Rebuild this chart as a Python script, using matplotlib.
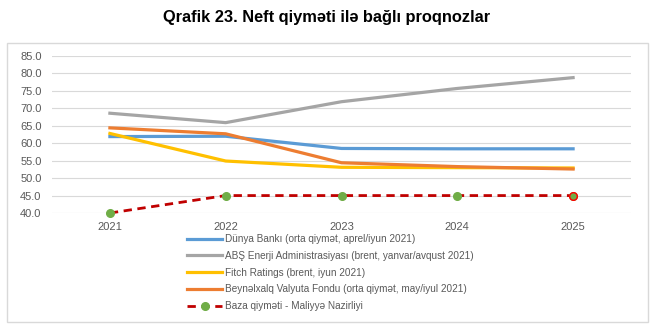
import matplotlib.pyplot as plt
from matplotlib.patches import Rectangle

plt.rcParams['font.family'] = ['Liberation Sans', 'DejaVu Sans']

years = ["2021", "2022", "2023", "2024", "2025"]
dunya_banki = [61.9, 62.0, 58.5, 58.4, 58.4]
abs_enerji = [68.6, 65.9, 71.9, 75.7, 78.8]
fitch = [62.8, 54.9, 53.1, 53.0, 52.9]
bvf = [64.4, 62.7, 54.4, 53.3, 52.6]
baza = [40.0, 45.0, 45.0, 45.0, 45.0]

labels = ["Dünya Bankı (orta qiymət, aprel/iyun 2021)",
          "ABŞ Enerji Administrasiyası (brent, yanvar/avqust 2021)",
          "Fitch Ratings (brent, iyun 2021)",
          "Beynəlxalq Valyuta Fondu (orta qiymət, may/iyul 2021)",
          "Baza qiyməti - Maliyyə Nazirliyi"]

fig = plt.figure(figsize=(6.54, 3.30), dpi=100)
fig.patches.append(Rectangle((7/654, 8/330), 641/654, 279/330, transform=fig.transFigure,
                             fill=False, edgecolor="#D9D9D9", linewidth=1))
fig.text(0.5, 0.948, "Qrafik 23. Neft qiymәti ilә bağlı proqnozlar", ha="center", va="center",
         fontsize=11.8, fontweight="bold")

ax = fig.add_axes([52/654, 117/330, 579/654, 157/330])
x = range(len(years))
lw = 2.3
ax.plot(x, dunya_banki, color="#5B9BD5", lw=lw, label=labels[0])
ax.plot(x, abs_enerji, color="#A5A5A5", lw=lw, label=labels[1])
ax.plot(x, fitch, color="#FFC000", lw=lw, label=labels[2])
ax.plot(x, bvf, color="#ED7D31", lw=lw, label=labels[3])
ax.plot(x, baza, color="#C00000", lw=2, ls=(0, (3, 2)), marker="o", markersize=5.5,
        markerfacecolor="#70AD47", markeredgecolor="#70AD47", label=labels[4], clip_on=False)
ax.plot([4], [baza[4]], marker="o", markersize=5.5, markerfacecolor="#70AD47",
        markeredgecolor="#FF0000", ls="none")

ax.set_xlim(-0.5, 4.5)
ax.set_ylim(40, 85)
ax.set_yticks([40 + 5 * i for i in range(10)])
ax.set_yticklabels([f"{40 + 5 * i:.1f}" for i in range(10)])
ax.set_xticks(list(x))
ax.set_xticklabels(years)
ax.grid(axis="y", color="#D9D9D9", lw=0.8)
ax.set_axisbelow(True)
for s in ax.spines.values():
    s.set_visible(False)
ax.tick_params(length=0, labelsize=8, colors="#595959")
ax.tick_params(axis="y", pad=7.5)
ax.tick_params(axis="x", pad=6.5)

fig.legend(loc="upper left", bbox_to_anchor=(187/654, 1 - 234/330), frameon=False,
           fontsize=7.2, labelcolor="#595959", handlelength=3.5, handletextpad=0.3,
           labelspacing=0.68, borderaxespad=0, borderpad=0)

fig.savefig("out.png", dpi=100)
